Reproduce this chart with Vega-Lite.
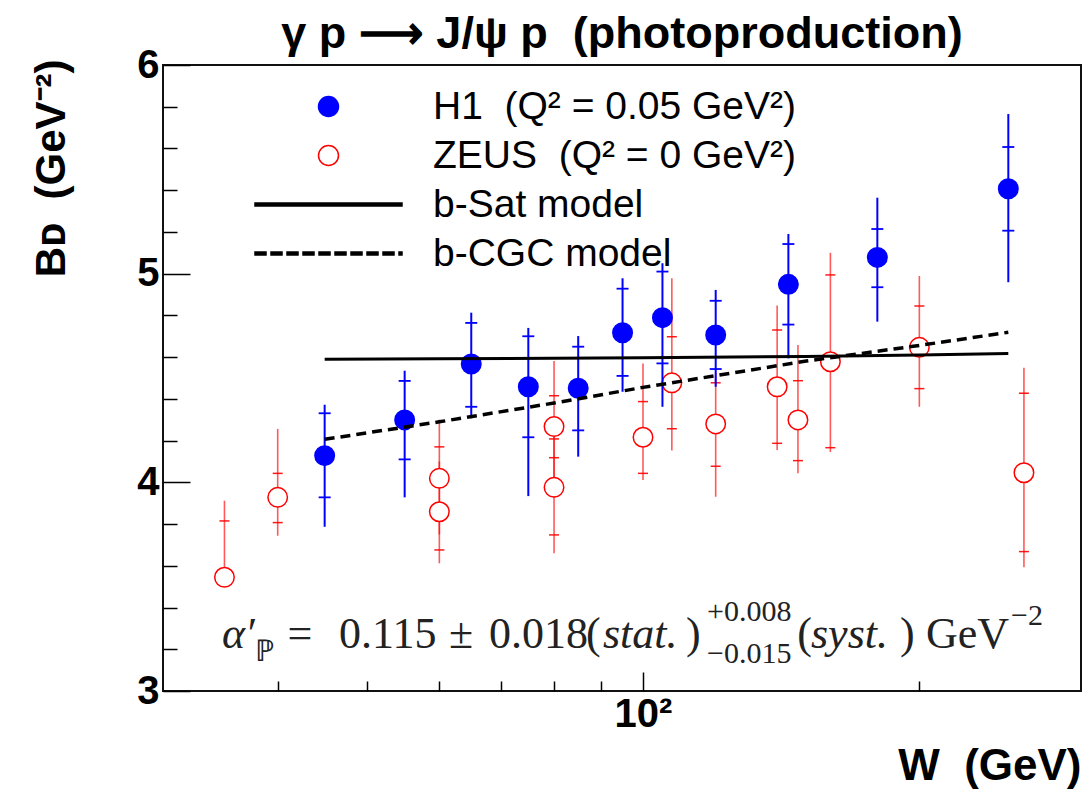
{
  "$schema": "https://vega.github.io/schema/vega-lite/v6.json",
  "width": 918,
  "height": 626,
  "autosize": {"type": "none"},
  "padding": {"left": 163, "top": 65, "right": 2, "bottom": 106},
  "background": "white",
  "title": {"text": "γ p ⟶ J/ψ p \u00a0(photoproduction)", "font": "Liberation Sans", "fontSize": 45, "fontWeight": "bold", "color": "black", "anchor": "middle", "frame": "group", "baseline": "alphabetic", "offset": -48},
  "config": {
    "view": {"stroke": "#111111", "strokeWidth": 2},
    "axis": {"grid": false, "domain": false}
  },
  "datasets": {
    "h1": [
      {"series": "H1\u00a0\u00a0(Q² = 0.05 GeV²)", "W": 45, "B": 4.128, "stat_lo": 3.928, "stat_hi": 4.331, "tot_lo": 3.787, "tot_hi": 4.372},
      {"series": "H1\u00a0\u00a0(Q² = 0.05 GeV²)", "W": 55, "B": 4.299, "stat_lo": 4.110, "stat_hi": 4.486, "tot_lo": 3.928, "tot_hi": 4.535},
      {"series": "H1\u00a0\u00a0(Q² = 0.05 GeV²)", "W": 65, "B": 4.567, "stat_lo": 4.362, "stat_hi": 4.764, "tot_lo": 4.307, "tot_hi": 4.813},
      {"series": "H1\u00a0\u00a0(Q² = 0.05 GeV²)", "W": 75, "B": 4.458, "stat_lo": 4.216, "stat_hi": 4.700, "tot_lo": 3.934, "tot_hi": 4.740},
      {"series": "H1\u00a0\u00a0(Q² = 0.05 GeV²)", "W": 85, "B": 4.451, "stat_lo": 4.249, "stat_hi": 4.650, "tot_lo": 4.123, "tot_hi": 4.701},
      {"series": "H1\u00a0\u00a0(Q² = 0.05 GeV²)", "W": 95, "B": 4.717, "stat_lo": 4.510, "stat_hi": 4.928, "tot_lo": 4.434, "tot_hi": 4.978},
      {"series": "H1\u00a0\u00a0(Q² = 0.05 GeV²)", "W": 105, "B": 4.789, "stat_lo": 4.570, "stat_hi": 5.010, "tot_lo": 4.362, "tot_hi": 5.050},
      {"series": "H1\u00a0\u00a0(Q² = 0.05 GeV²)", "W": 120, "B": 4.706, "stat_lo": 4.543, "stat_hi": 4.870, "tot_lo": 4.458, "tot_hi": 4.922},
      {"series": "H1\u00a0\u00a0(Q² = 0.05 GeV²)", "W": 144, "B": 4.949, "stat_lo": 4.756, "stat_hi": 5.142, "tot_lo": 4.594, "tot_hi": 5.190},
      {"series": "H1\u00a0\u00a0(Q² = 0.05 GeV²)", "W": 180, "B": 5.078, "stat_lo": 4.935, "stat_hi": 5.214, "tot_lo": 4.770, "tot_hi": 5.364},
      {"series": "H1\u00a0\u00a0(Q² = 0.05 GeV²)", "W": 250, "B": 5.407, "stat_lo": 5.206, "stat_hi": 5.607, "tot_lo": 4.959, "tot_hi": 5.765}
    ],
    "zeus": [
      {"series": "ZEUS\u00a0\u00a0(Q² = 0 GeV²)", "W": 35, "B": 3.545, "stat_lo": 3.52, "stat_hi": 3.815, "tot_lo": 3.51, "tot_hi": 3.912},
      {"series": "ZEUS\u00a0\u00a0(Q² = 0 GeV²)", "W": 40, "B": 3.928, "stat_lo": 3.807, "stat_hi": 4.043, "tot_lo": 3.744, "tot_hi": 4.256},
      {"series": "ZEUS\u00a0\u00a0(Q² = 0 GeV²)", "W": 60, "B": 4.019, "stat_lo": 3.87, "stat_hi": 4.17, "tot_lo": 3.75, "tot_hi": 4.30},
      {"series": "ZEUS\u00a0\u00a0(Q² = 0 GeV²)", "W": 60, "B": 3.859, "stat_lo": 3.676, "stat_hi": 4.04, "tot_lo": 3.612, "tot_hi": 4.10},
      {"series": "ZEUS\u00a0\u00a0(Q² = 0 GeV²)", "W": 80, "B": 4.267, "stat_lo": 4.118, "stat_hi": 4.415, "tot_lo": 4.0, "tot_hi": 4.581},
      {"series": "ZEUS\u00a0\u00a0(Q² = 0 GeV²)", "W": 80, "B": 3.976, "stat_lo": 3.748, "stat_hi": 4.208, "tot_lo": 3.660, "tot_hi": 4.30},
      {"series": "ZEUS\u00a0\u00a0(Q² = 0 GeV²)", "W": 100, "B": 4.216, "stat_lo": 4.043, "stat_hi": 4.387, "tot_lo": 4.011, "tot_hi": 4.570},
      {"series": "ZEUS\u00a0\u00a0(Q² = 0 GeV²)", "W": 107.5, "B": 4.477, "stat_lo": 4.257, "stat_hi": 4.698, "tot_lo": 4.153, "tot_hi": 4.978},
      {"series": "ZEUS\u00a0\u00a0(Q² = 0 GeV²)", "W": 120, "B": 4.280, "stat_lo": 4.077, "stat_hi": 4.477, "tot_lo": 3.931, "tot_hi": 4.525},
      {"series": "ZEUS\u00a0\u00a0(Q² = 0 GeV²)", "W": 140, "B": 4.458, "stat_lo": 4.187, "stat_hi": 4.730, "tot_lo": 4.155, "tot_hi": 4.847},
      {"series": "ZEUS\u00a0\u00a0(Q² = 0 GeV²)", "W": 147.5, "B": 4.299, "stat_lo": 4.104, "stat_hi": 4.487, "tot_lo": 4.043, "tot_hi": 4.658},
      {"series": "ZEUS\u00a0\u00a0(Q² = 0 GeV²)", "W": 160, "B": 4.578, "stat_lo": 4.166, "stat_hi": 4.994, "tot_lo": 4.145, "tot_hi": 5.100},
      {"series": "ZEUS\u00a0\u00a0(Q² = 0 GeV²)", "W": 200, "B": 4.647, "stat_lo": 4.449, "stat_hi": 4.845, "tot_lo": 4.362, "tot_hi": 4.989},
      {"series": "ZEUS\u00a0\u00a0(Q² = 0 GeV²)", "W": 260, "B": 4.046, "stat_lo": 3.668, "stat_hi": 4.427, "tot_lo": 3.593, "tot_hi": 4.549}
    ],
    "bsat": [
      {"W": 45, "B": 4.590}, {"W": 60, "B": 4.592}, {"W": 100, "B": 4.597}, {"W": 150, "B": 4.603}, {"W": 200, "B": 4.610}, {"W": 250, "B": 4.618}
    ],
    "bcgc": [
      {"W": 45, "B": 4.206}, {"W": 60, "B": 4.29}, {"W": 80, "B": 4.38}, {"W": 100, "B": 4.455}, {"W": 150, "B": 4.580}, {"W": 200, "B": 4.656}, {"W": 250, "B": 4.719}
    ],
    "f_regular": [
      {"W": 41.0, "B": 3.206, "text": "="},
      {"W": 46.65, "B": 3.206, "text": "0.115"},
      {"W": 61.47, "B": 3.206, "text": "±"},
      {"W": 67.96, "B": 3.206, "text": "0.018"},
      {"W": 86.67, "B": 3.206, "text": "("},
      {"W": 111.4, "B": 3.206, "text": ")"},
      {"W": 147.2, "B": 3.206, "text": "("},
      {"W": 190.5, "B": 3.206, "text": ")"},
      {"W": 203.4, "B": 3.206, "text": "GeV"}
    ],
    "f_italic": [
      {"W": 34.78, "B": 3.206, "text": "α′"},
      {"W": 90.45, "B": 3.206, "text": "stat."},
      {"W": 152.4, "B": 3.206, "text": "syst."}
    ],
    "f_small": [
      {"W": 37.8, "B": 3.145, "text": "ℙ"},
      {"W": 117.4, "B": 3.335, "text": "+0.008"},
      {"W": 117.4, "B": 3.134, "text": "−0.015"},
      {"W": 251.7, "B": 3.316, "text": "−2"}
    ]
  },
  "layer": [
    {
      "data": {"name": "zeus"},
      "mark": {"type": "rule", "color": "#ff0000", "strokeWidth": 1.6, "opacity": 0.65},
      "encoding": {
        "x": {"field": "W", "type": "quantitative", "scale": {"type": "log", "domain": [30, 300], "nice": false},
          "axis": {"title": "W\u00a0\u00a0(GeV)", "values": [40, 50, 60, 70, 80, 90, 100, 200],
            "labelExpr": "datum.value == 100 ? '10²' : ''",
            "tickSize": {"condition": {"test": "datum.value == 100", "value": -19}, "value": -10},
            "tickColor": "black", "tickWidth": 1.5,
            "labelFont": "Liberation Sans", "labelFontSize": 40, "labelFontWeight": "bold", "labelColor": "black",
            "labelPadding": 22, "labelFlush": false, "labelOverlap": false,
            "titleFont": "Liberation Sans", "titleFontSize": 44, "titleFontWeight": "bold", "titleColor": "black",
            "titleX": 918, "titleY": 88, "titleAlign": "right", "titleBaseline": "alphabetic", "domain": false, "grid": false}},
        "y": {"field": "tot_lo", "type": "quantitative", "scale": {"domain": [3, 6], "nice": false, "zero": false},
          "axis": {"title": "Bᴅ\u00a0\u00a0(GeV⁻²)", "values": [3, 3.2, 3.4, 3.6, 3.8, 4, 4.2, 4.4, 4.6, 4.8, 5, 5.2, 5.4, 5.6, 5.8, 6],
            "labelExpr": "datum.value % 1 == 0 ? format(datum.value, 'd') : ''",
            "tickSize": {"condition": {"test": "datum.value % 1 == 0", "value": -27}, "value": -14},
            "tickColor": "black", "tickWidth": 1.5,
            "labelFont": "Liberation Sans", "labelFontSize": 40, "labelFontWeight": "bold", "labelColor": "black",
            "labelPadding": 31, "labelFlush": false, "labelOverlap": false,
            "titleFont": "Liberation Sans", "titleFontSize": 42, "titleFontWeight": "bold", "titleColor": "black",
            "titleAngle": -90, "titleX": -99, "titleY": -6, "titleAlign": "right", "titleBaseline": "alphabetic", "domain": false, "grid": false}},
        "y2": {"field": "tot_hi"}
      }
    },
    {
      "data": {"name": "zeus"},
      "mark": {"type": "tick", "orient": "horizontal", "color": "#ff0000", "size": 10, "thickness": 1.5, "opacity": 0.9},
      "encoding": {"x": {"field": "W", "type": "quantitative"}, "y": {"field": "stat_hi", "type": "quantitative"}}
    },
    {
      "data": {"name": "zeus"},
      "mark": {"type": "tick", "orient": "horizontal", "color": "#ff0000", "size": 10, "thickness": 1.5, "opacity": 0.9},
      "encoding": {"x": {"field": "W", "type": "quantitative"}, "y": {"field": "stat_lo", "type": "quantitative"}}
    },
    {
      "data": {"name": "zeus"},
      "mark": {"type": "point", "size": 380, "strokeWidth": 1.5, "opacity": 1},
      "encoding": {
        "x": {"field": "W", "type": "quantitative"},
        "y": {"field": "B", "type": "quantitative"},
        "fill": {"field": "series", "type": "nominal",
          "scale": {"domain": ["H1\u00a0\u00a0(Q² = 0.05 GeV²)", "ZEUS\u00a0\u00a0(Q² = 0 GeV²)", "b-Sat model", "b-CGC model"], "range": ["#0000ff", "#ffffff", "#000000", "#000000"]},
          "legend": {"orient": "none", "legendX": 146, "legendY": 22, "title": null, "symbolSize": 400, "symbolStrokeWidth": 1.5, "symbolOpacity": 1,
            "labelFont": "Liberation Sans", "labelFontSize": 39, "labelColor": "black", "labelOffset": 85, "labelLimit": 0, "rowPadding": 9, "padding": 0}},
        "stroke": {"field": "series", "type": "nominal",
          "scale": {"domain": ["H1\u00a0\u00a0(Q² = 0.05 GeV²)", "ZEUS\u00a0\u00a0(Q² = 0 GeV²)", "b-Sat model", "b-CGC model"], "range": ["#0000ff", "#ff0000", "#000000", "#000000"]}},
        "shape": {"field": "series", "type": "nominal",
          "scale": {"domain": ["H1\u00a0\u00a0(Q² = 0.05 GeV²)", "ZEUS\u00a0\u00a0(Q² = 0 GeV²)", "b-Sat model", "b-CGC model"],
            "range": ["circle", "circle", "M-7.35,-0.15H7.35V0.15H-7.35Z",
              "M-7.35,-0.15H-6.25V0.15H-7.35ZM-5.75,-0.15H-4.65V0.15H-5.75ZM-4.15,-0.15H-3.05V0.15H-4.15ZM-2.55,-0.15H-1.45V0.15H-2.55ZM-0.95,-0.15H0.15V0.15H-0.95ZM0.65,-0.15H1.75V0.15H0.65ZM2.25,-0.15H3.35V0.15H2.25ZM3.85,-0.15H4.95V0.15H3.85ZM5.45,-0.15H6.55V0.15H5.45ZM7.05,-0.15H7.35V0.15H7.05Z"]}}
      }
    },
    {
      "data": {"name": "h1"},
      "mark": {"type": "rule", "color": "#0000ff", "strokeWidth": 2},
      "encoding": {"x": {"field": "W", "type": "quantitative"}, "y": {"field": "tot_lo", "type": "quantitative"}, "y2": {"field": "tot_hi"}}
    },
    {
      "data": {"name": "h1"},
      "mark": {"type": "tick", "orient": "horizontal", "color": "#0000ff", "size": 12, "thickness": 1.8, "opacity": 1},
      "encoding": {"x": {"field": "W", "type": "quantitative"}, "y": {"field": "stat_hi", "type": "quantitative"}}
    },
    {
      "data": {"name": "h1"},
      "mark": {"type": "tick", "orient": "horizontal", "color": "#0000ff", "size": 12, "thickness": 1.8, "opacity": 1},
      "encoding": {"x": {"field": "W", "type": "quantitative"}, "y": {"field": "stat_lo", "type": "quantitative"}}
    },
    {
      "data": {"name": "h1"},
      "mark": {"type": "point", "size": 380, "strokeWidth": 1.5, "opacity": 1},
      "encoding": {
        "x": {"field": "W", "type": "quantitative"},
        "y": {"field": "B", "type": "quantitative"},
        "fill": {"field": "series", "type": "nominal"},
        "stroke": {"field": "series", "type": "nominal"},
        "shape": {"field": "series", "type": "nominal"}
      }
    },
    {
      "data": {"name": "bsat"},
      "mark": {"type": "line", "color": "#000000", "strokeWidth": 3},
      "encoding": {"x": {"field": "W", "type": "quantitative"}, "y": {"field": "B", "type": "quantitative"}}
    },
    {
      "data": {"name": "bcgc"},
      "mark": {"type": "line", "color": "#000000", "strokeWidth": 3.5, "strokeDash": [10, 6]},
      "encoding": {"x": {"field": "W", "type": "quantitative"}, "y": {"field": "B", "type": "quantitative"}}
    },
    {
      "data": {"name": "f_regular"},
      "mark": {"type": "text", "font": "Liberation Serif", "fontSize": 44, "align": "left", "baseline": "alphabetic", "color": "#222222"},
      "encoding": {"x": {"field": "W", "type": "quantitative"}, "y": {"field": "B", "type": "quantitative"}, "text": {"field": "text"}}
    },
    {
      "data": {"name": "f_italic"},
      "mark": {"type": "text", "font": "Liberation Serif", "fontSize": 44, "fontStyle": "italic", "align": "left", "baseline": "alphabetic", "color": "#222222"},
      "encoding": {"x": {"field": "W", "type": "quantitative"}, "y": {"field": "B", "type": "quantitative"}, "text": {"field": "text"}}
    },
    {
      "data": {"name": "f_small"},
      "mark": {"type": "text", "font": "Liberation Serif", "fontSize": 30, "align": "left", "baseline": "alphabetic", "color": "#222222"},
      "encoding": {"x": {"field": "W", "type": "quantitative"}, "y": {"field": "B", "type": "quantitative"}, "text": {"field": "text"}}
    }
  ]
}
